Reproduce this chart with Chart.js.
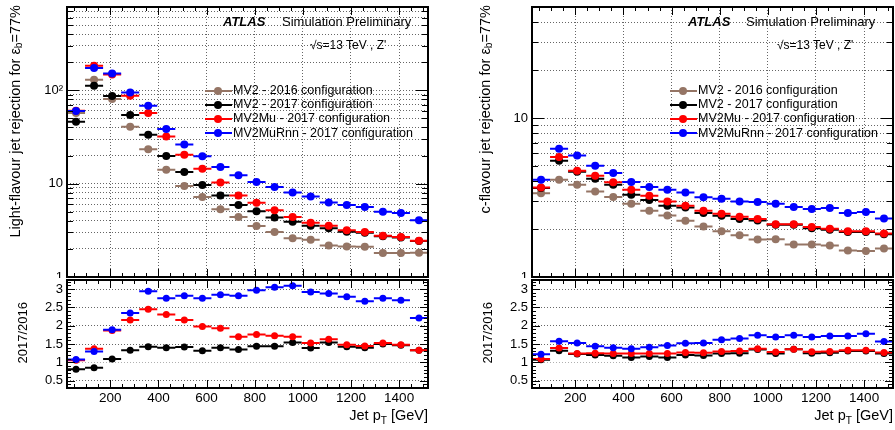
<!DOCTYPE html>
<html>
<head>
<meta charset="utf-8">
<script src="https://cdn.jsdelivr.net/npm/chart.js@4.4.0/dist/chart.umd.min.js"></script>
<style>
body{margin:0;background:#fff;font-family:"Liberation Sans",Arial,sans-serif;}
#wrap{position:relative;width:895px;height:430px;overflow:hidden;background:#fff;}
canvas{position:absolute;background:#fff;}
.t{position:absolute;white-space:nowrap;color:#000;line-height:1;}
.vt{position:absolute;white-space:nowrap;color:#000;line-height:1;writing-mode:vertical-rl;transform:rotate(180deg);}
sub{font-size:70%;vertical-align:sub;line-height:0;}
.atlas{font-weight:bold;font-style:italic;font-size:13px;}
.leg{position:absolute;white-space:nowrap;font-size:12.5px;line-height:1;}
.legline{position:absolute;height:2px;}
.legdot{position:absolute;width:8px;height:8px;border-radius:50%;}
</style>
</head>
<body>
<div id="wrap">
  <canvas id="mainL" width="445" height="280" style="left:0;top:0"></canvas>
  <canvas id="ratioL" width="445" height="152" style="left:0;top:278px"></canvas>
  <canvas id="mainC" width="445" height="280" style="left:450px;top:0"></canvas>
  <canvas id="ratioC" width="445" height="152" style="left:450px;top:278px"></canvas>

  <div class="vt" style="left:8px;top:5px;font-size:14.5px">Light-flavour jet rejection for ε<sub>b</sub>=77%</div>
  <div class="vt" style="left:478px;top:5px;font-size:14.5px">c-flavour jet rejection for ε<sub>b</sub>=77%</div>
  <div class="vt" style="left:16px;top:302px;font-size:13px">2017/2016</div>
  <div class="vt" style="left:481px;top:302px;font-size:13px">2017/2016</div>
  <div class="t" style="right:467px;top:408px;font-size:14.5px">Jet p<sub>T</sub> [GeV]</div>
  <div class="t" style="right:2px;top:408px;font-size:14.5px">Jet p<sub>T</sub> [GeV]</div>

  <div class="t atlas" style="left:223px;top:15px">ATLAS</div>
  <div class="t" style="left:282px;top:15px;font-size:13px">Simulation Preliminary</div>
  <div class="t" style="left:310px;top:39px;font-size:12px">√s=13 TeV , Z'</div>
  <div class="t atlas" style="left:688px;top:15px">ATLAS</div>
  <div class="t" style="left:746px;top:15px;font-size:13px">Simulation Preliminary</div>
  <div class="t" style="left:777px;top:39px;font-size:12px">√s=13 TeV , Z'</div>
</div>
<script>
// bins in jet pT (GeV)
const binCenters = [57.5,132.5,207.5,282.5,357.5,432.5,507.5,582.5,657.5,732.5,807.5,882.5,957.5,1032.5,1107.5,1182.5,1257.5,1332.5,1407.5,1482.5];
const binHalfWidth = 37.5;
const xTicks = [200,400,600,800,1000,1200,1400];
const ratioTicks = [0.5,1,1.5,2,2.5,3];

const seriesNames = ['MV2 - 2016 configuration','MV2 - 2017 configuration','MV2Mu - 2017 configuration','MV2MuRnn - 2017 configuration'];
const seriesColors = ['#957565','#000000','#ff0000','#0000ff'];

// light-flavour rejection
const light2016 = [57,130,80.5,40.7,23.3,14.1,9.45,7.2,5.33,4.4,3.52,3.04,2.6,2.51,2.18,2.12,2.11,1.81,1.81,1.82];
const light2017 = [46,112,87,54.3,33.4,19.8,13.3,9.7,7.47,5.9,5.05,4.33,3.91,3.53,3.33,3.05,2.97,2.73,2.65,2.43];
const lightMu   = [60.5,183,148,87.3,57,32,20.4,14.4,10.3,7.47,6.26,5.18,4.4,3.82,3.55,3.17,3.03,2.77,2.68,2.44];
const lightRnn  = [60,173,151,94.8,68.3,38.5,26.3,19.7,15.1,12.3,10.4,9.22,8.03,7.28,6.28,5.89,5.63,5.0,4.85,4.05];
const lightR2017 = [0.81,0.85,1.09,1.33,1.43,1.40,1.42,1.32,1.40,1.35,1.44,1.44,1.54,1.39,1.54,1.43,1.40,1.50,1.47,1.33];
const lightRMu   = [1.06,1.37,1.87,2.16,2.45,2.31,2.16,1.98,1.93,1.70,1.76,1.73,1.70,1.53,1.63,1.48,1.45,1.53,1.48,1.33];
const lightRRnn  = [1.08,1.30,1.89,2.35,2.94,2.75,2.82,2.75,2.85,2.82,2.97,3.05,3.09,2.92,2.88,2.79,2.67,2.75,2.70,2.21];

// c-flavour rejection
const c2016 = [3.37,4.09,3.81,3.45,3.19,2.89,2.61,2.44,2.26,2.08,1.94,1.83,1.72,1.73,1.60,1.60,1.58,1.47,1.46,1.51];
const c2017 = [3.63,5.39,4.6,4.15,3.80,3.29,3.05,2.81,2.74,2.53,2.43,2.32,2.27,2.13,2.13,2.03,1.98,1.92,1.92,1.86];
const cMu   = [3.66,5.69,4.66,4.34,3.94,3.54,3.25,2.99,2.81,2.61,2.50,2.39,2.32,2.15,2.15,2.06,2.01,1.94,1.94,1.88];
const cRnn  = [4.09,6.41,5.82,5.01,4.51,3.96,3.68,3.54,3.40,3.17,3.11,2.99,2.96,2.89,2.76,2.68,2.72,2.53,2.56,2.33];
const cR2017 = [1.07,1.32,1.23,1.20,1.18,1.13,1.16,1.13,1.20,1.19,1.24,1.25,1.35,1.24,1.36,1.25,1.26,1.31,1.31,1.24];
const cRMu   = [1.09,1.39,1.24,1.25,1.24,1.24,1.24,1.24,1.27,1.26,1.30,1.31,1.37,1.28,1.36,1.29,1.30,1.33,1.33,1.27];
const cRRnn  = [1.22,1.58,1.53,1.44,1.40,1.37,1.41,1.46,1.52,1.53,1.62,1.65,1.74,1.69,1.74,1.69,1.72,1.72,1.78,1.57];

const FONT = '"Liberation Sans", Arial, sans-serif';
Chart.defaults.font.family = FONT;
Chart.defaults.font.size = 13;
Chart.defaults.color = '#000';
const GRID = 'rgba(0,0,0,0.6)';

function logGrid(max){
    let out = [];
    for(let d = 1; d <= max; d *= 10){
        for(let m = 1; m <= 9; m++){ if(m*d <= max) out.push(m*d); }
    }
    return out;
}
function ratioMinor(){
    let out = [];
    for(let k = 4; k <= 32; k++) out.push(k/10);
    return out;
}

// horizontal bin bar + marker at centre, gaps between bins
function series(vals, colorIdx, order, r){
    let pts = [];
    vals.forEach(function(v, i){
        let c = binCenters[i];
        pts.push({x:c-binHalfWidth,y:v},{x:c,y:v},{x:c+binHalfWidth,y:v},{x:c+binHalfWidth,y:null});
    });
    return {
        data: pts,
        borderColor: seriesColors[colorIdx],
        backgroundColor: seriesColors[colorIdx],
        borderWidth: 2,
        order: order,
        spanGaps: false,
        tension: 0,
        pointBorderWidth: 0,
        pointHoverRadius: 0,
        pointRadius: function(ctx){ return ctx.dataIndex % 4 === 1 ? r : 0; }
    };
}

// frame with inward ROOT-style ticks, x labels under the ratio pad
function framePlugin(yList, isMajor, yLen, xLen, xLabels){
    return {
        id: 'frame',
        afterDraw(chart){
            const {ctx, chartArea: a, scales} = chart;
            const xs = scales.x, ys = scales.y;
            ctx.save();
            ctx.strokeStyle = '#000';
            ctx.lineWidth = 1;
            ctx.beginPath();
            for(let v = 50; v <= 1500; v += 50){
                let px = Math.round(xs.getPixelForValue(v)) + 0.5;
                let len = v % 200 === 0 ? xLen[0] : xLen[1];
                ctx.moveTo(px, a.bottom); ctx.lineTo(px, a.bottom - len);
                ctx.moveTo(px, a.top); ctx.lineTo(px, a.top + len);
            }
            yList.forEach(function(v){
                let py = Math.round(ys.getPixelForValue(v)) + 0.5;
                if(py < a.top || py > a.bottom) return;
                let len = isMajor(v) ? yLen[0] : yLen[1];
                ctx.moveTo(a.left, py); ctx.lineTo(a.left + len, py);
                ctx.moveTo(a.right, py); ctx.lineTo(a.right - len, py);
            });
            ctx.stroke();
            ctx.lineWidth = 2;
            ctx.strokeRect(a.left, a.top, a.right - a.left, a.bottom - a.top);
            if(xLabels){
                ctx.fillStyle = '#000';
                ctx.font = '13.5px ' + FONT;
                ctx.textAlign = 'center';
                ctx.textBaseline = 'middle';
                xTicks.forEach(function(v){
                    ctx.fillText(String(v), xs.getPixelForValue(v), a.bottom + 10);
                });
            }
            ctx.restore();
        }
    };
}

function noPad(s){ s.paddingTop = 0; s.paddingBottom = 0; s.paddingLeft = 0; s.paddingRight = 0; }

function buildChart(id, cfg){
    return new Chart(document.getElementById(id), {
        type: 'line',
        data: { datasets: cfg.datasets },
        options: {
            responsive: false,
            animation: false,
            events: [],
            layout: { padding: cfg.pad },
            plugins: { legend: {display:false}, tooltip: {enabled:false} },
            scales: {
                x: {
                    type: 'linear', min: 20, max: 1520,
                    display: cfg.xGrid,
                    afterBuildTicks: function(s){ s.ticks = xTicks.map(v => ({value:v})); },
                    afterFit: function(s){ s.height = 0; noPad(s); },
                    ticks: { display: false, autoSkip:false, maxRotation:0 },
                    grid: { drawTicks:false, color: GRID },
                    border: { display:false, dash:[1,2] }
                },
                y: {
                    type: cfg.log ? 'logarithmic' : 'linear', min: cfg.yMin, max: cfg.yMax,
                    afterBuildTicks: function(s){ s.ticks = cfg.yTicks.map(v => ({value:v})); },
                    afterFit: function(s){ s.width = cfg.yW; noPad(s); },
                    ticks: { autoSkip:false, padding:4, callback: cfg.yLabel },
                    grid: { drawTicks:false, color: function(c){ return (!cfg.log && c.tick && c.tick.value === 1) ? '#b0b0b0' : GRID; } },
                    border: { display:false, dash:[1,2] }
                }
            }
        },
        plugins: [framePlugin(cfg.tickList, cfg.isMajor, cfg.yLen, cfg.xLen, cfg.xLabels)]
    });
}

const logLabel = function(v){ return v === 1 ? '1' : v === 10 ? '10' : v === 100 ? '10\u00B2' : ''; };
const ratioLabel = function(v){ return String(v); };
const isDecade = v => Math.abs(Math.log10(v) - Math.round(Math.log10(v))) < 1e-9;
const isHalf = v => Math.abs(v*2 - Math.round(v*2)) < 1e-9;

function panel(prefix, yW, padR, mainMax, main, ratio){
    const mainTicks = logGrid(mainMax);
    buildChart('main' + prefix, {
        datasets: [series(main[0],0,4,4), series(main[1],1,3,4), series(main[2],2,2,4), series(main[3],3,1,4)],
        pad: {top:7, right:padR, bottom:3, left:0},
        log: true, yMin: 1, yMax: mainMax, yTicks: mainTicks, yLabel: logLabel, yW: yW,
        xLabels: false, xGrid: true,
        tickList: mainTicks, isMajor: isDecade, yLen: [12,6], xLen: [8,4]
    });
    buildChart('ratio' + prefix, {
        datasets: [series(ratio[0],1,3,3.5), series(ratio[1],2,2,3.5), series(ratio[2],3,1,3.5)],
        pad: {top:2, right:padR, bottom:42, left:0},
        log: false, yMin: 0.3, yMax: 3.25, yTicks: ratioTicks, yLabel: ratioLabel, yW: yW,
        xLabels: true, xGrid: false,
        tickList: ratioMinor(), isMajor: isHalf, yLen: [8,4], xLen: [8,4]
    });
}

panel('L', 67, 17, 780, [light2016, light2017, lightMu, lightRnn], [lightR2017, lightRMu, lightRRnn]);
panel('C', 82, 2, 50, [c2016, c2017, cMu, cRnn], [cR2017, cRMu, cRRnn]);

// legends
function legend(x0, y0){
    const wrap = document.getElementById('wrap');
    seriesNames.forEach(function(name, i){
        let y = y0 + i*14.2;
        let line = document.createElement('div');
        line.className = 'legline';
        line.style.cssText = 'left:'+x0+'px;top:'+(y-1)+'px;width:27px;background:'+seriesColors[i];
        let dot = document.createElement('div');
        dot.className = 'legdot';
        dot.style.cssText = 'left:'+(x0+9)+'px;top:'+(y-4)+'px;background:'+seriesColors[i];
        let txt = document.createElement('div');
        txt.className = 'leg';
        txt.style.cssText = 'left:'+(x0+28)+'px;top:'+(y-6.5)+'px';
        txt.textContent = name;
        wrap.appendChild(line); wrap.appendChild(dot); wrap.appendChild(txt);
    });
}
legend(205, 90.5);
legend(670, 90.5);
</script>
</body>
</html>
